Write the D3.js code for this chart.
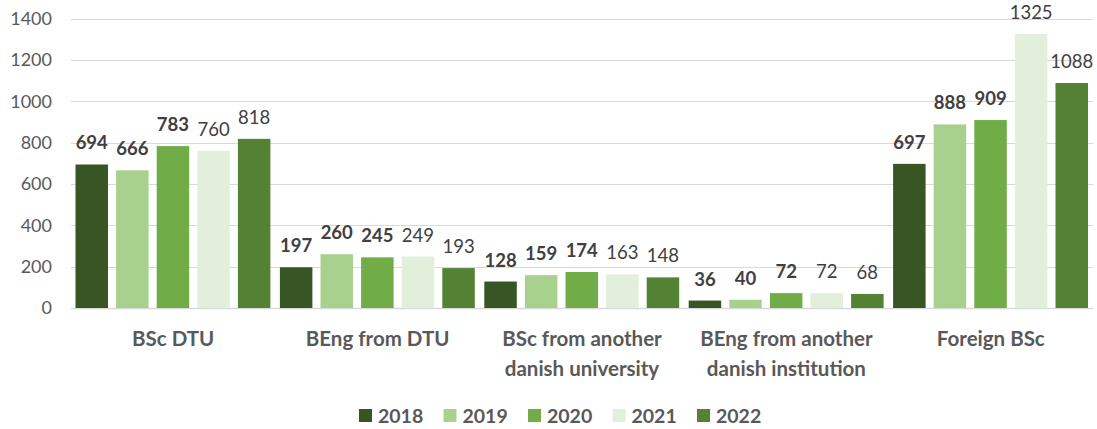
<!DOCTYPE html>
<html>
<head>
<meta charset="utf-8">
<script src="https://cdn.jsdelivr.net/npm/d3@7"></script>
<style>
  body { margin: 0; background: #fff; }
  svg text { font-family: Lato, "Open Sans", sans-serif; }
</style>
</head>
<body>
<svg id="chart" width="1097" height="429"></svg>
<script>
const categories = [
    ["BSc DTU"],
    ["BEng from DTU"],
    ["BSc from another", "danish university"],
    ["BEng from another", "danish institution"],
    ["Foreign BSc"]
];
const years = ["2018", "2019", "2020", "2021", "2022"];
const values2018 = [694, 197, 128, 36, 697];
const values2019 = [666, 260, 159, 40, 888];
const values2020 = [783, 245, 174, 72, 909];
const values2021 = [760, 249, 163, 72, 1325];
const values2022 = [818, 193, 148, 68, 1088];
const yTicks = [0, 200, 400, 600, 800, 1000, 1200, 1400];

const seriesValues = [values2018, values2019, values2020, values2021, values2022];
const colors = ["#375623", "#a9d18e", "#70ad47", "#e2efda", "#548235"];
const boldYears = ["2018", "2019", "2020"];

const svg = d3.select("#chart");
const plotLeft = 71, plotRight = 1093, plotTop = 18.5, plotBottom = 308;

const x0 = d3.scaleBand()
    .domain(d3.range(categories.length))
    .range([plotLeft, plotRight])
    .padding(0);

const x1 = d3.scaleBand()
    .domain(years)
    .range([4.5, x0.bandwidth() - 5])
    .paddingInner(0.2);

const y = d3.scaleLinear().domain([0, 1400]).range([plotBottom, plotTop]);

// gridlines
svg.append("g")
    .selectAll("line")
    .data(yTicks)
    .enter()
    .append("line")
    .attr("x1", plotLeft)
    .attr("x2", plotRight)
    .attr("y1", d => Math.round(y(d)) + 0.5)
    .attr("y2", d => Math.round(y(d)) + 0.5)
    .attr("stroke", "#d9d9d9")
    .attr("stroke-width", d => d === 0 ? 1.5 : 1);

// y tick labels
svg.append("g")
    .selectAll("text")
    .data(yTicks)
    .enter()
    .append("text")
    .attr("x", 52)
    .attr("y", d => y(d))
    .attr("dy", "0.35em")
    .attr("text-anchor", "end")
    .attr("fill", "#595959")
    .style("font-size", "18px")
    .text(d => d);

// bars
const groups = svg.append("g")
    .selectAll("g")
    .data(categories.map((c, i) => i))
    .enter()
    .append("g")
    .attr("transform", i => `translate(${x0(i)},0)`);

const cells = groups.selectAll("g")
    .data(i => years.map((yr, k) => ({ year: yr, k: k, value: seriesValues[k][i] })))
    .enter()
    .append("g");

cells.append("rect")
    .attr("x", d => x1(d.year))
    .attr("y", d => y(d.value))
    .attr("width", x1.bandwidth())
    .attr("height", d => plotBottom - y(d.value))
    .attr("fill", d => colors[d.k]);

cells.append("text")
    .attr("x", d => x1(d.year) + x1.bandwidth() / 2)
    .attr("y", d => y(d.value) - 15)
    .attr("text-anchor", "middle")
    .attr("fill", "#404040")
    .style("font-size", "18.5px")
    .style("font-weight", d => boldYears.includes(d.year) ? "bold" : "normal")
    .text(d => d.value);

// category labels
const catLabels = svg.append("g")
    .selectAll("text")
    .data(categories)
    .enter()
    .append("text")
    .attr("x", (c, i) => x0(i) + x0.bandwidth() / 2)
    .attr("y", 346)
    .attr("text-anchor", "middle")
    .attr("fill", "#595959")
    .style("font-size", "20.5px")
    .style("font-weight", "bold");

catLabels.selectAll("tspan")
    .data(c => c)
    .enter()
    .append("tspan")
    .attr("x", function () { return d3.select(this.parentNode).attr("x"); })
    .attr("dy", (t, j) => j === 0 ? 0 : 30)
    .text(t => t);

// legend
const legend = svg.append("g")
    .selectAll("g")
    .data(years)
    .enter()
    .append("g")
    .attr("transform", (yr, k) => `translate(${359 + k * 84.5}, 0)`);

legend.append("rect")
    .attr("x", 0)
    .attr("y", 409)
    .attr("width", 13)
    .attr("height", 13)
    .attr("fill", (yr, k) => colors[k]);

legend.append("text")
    .attr("x", 19)
    .attr("y", 422.5)
    .attr("fill", "#595959")
    .style("font-size", "19.5px")
    .style("font-weight", "bold")
    .text(yr => yr);
</script>
</body>
</html>
